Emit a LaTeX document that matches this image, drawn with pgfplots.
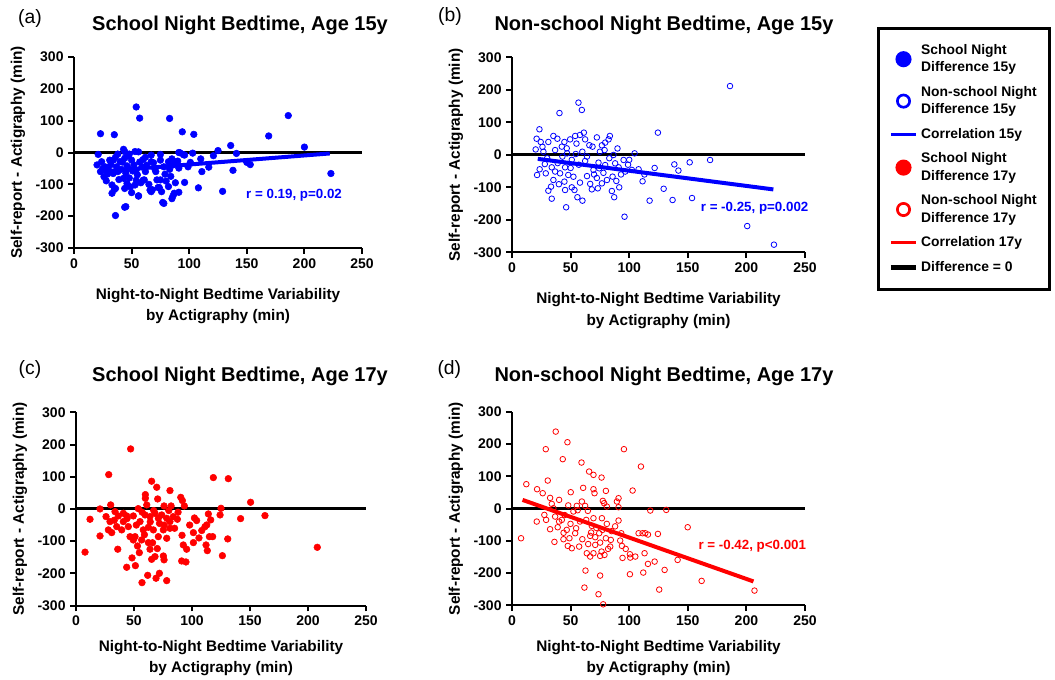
\documentclass[border=0pt]{standalone}
\usepackage{fontspec}
\setmainfont{Liberation Sans}
\usepackage{pgfplots}
\pgfplotsset{compat=1.18}
\definecolor{pblue}{RGB}{0,0,255}
\definecolor{pred}{RGB}{255,0,0}

\pgfplotsset{
  panel/.style={
    scale only axis, clip=false,
    xmin=0, xmax=250, ymin=-300, ymax=300,
    axis x line*=bottom, axis y line*=left,
    axis line style={line width=1.5pt, -},
    xtick={0,50,100,150,200,250}, xticklabels={0,50,100,150,200,250},
    ytick={-300,-200,-100,0,100,200,300},
    yticklabels={-300,-200,-100,0,100,200,300},
    tick align=outside, major tick length=4.3pt,
    every tick/.style={line width=1.5pt, black},
    tick label style={font=\bfseries\fontsize{10.5}{12}\selectfont},
    xlabel={Night-to-Night Bedtime Variability\\by Actigraphy (min)},
    ylabel={Self-report - Actigraphy (min)},
    xlabel style={at={([yshift=-#1]axis description cs:0.5,0)}, anchor=center,
      font=\bfseries\fontsize{11.5}{16}\selectfont, align=center},
    ylabel style={at={([xshift=-42pt]axis description cs:0,0.5)}, anchor=center,
      font=\bfseries\fontsize{11.5}{15}\selectfont},
  },
  panel/.default=43.5pt,
  zero/.style={black, line width=2.25pt, forget plot},
  dots/.style={only marks, mark=*, mark size=2.5pt, draw=#1, fill=#1},
  rings/.style={only marks, mark=o, mark size=2.1pt, mark options={line width=0.6pt}, draw=#1},
  regline/.style={#1, line width=3pt},
}
\tikzset{rlab/.style={font=\bfseries\fontsize{10}{12}\selectfont, text=#1}}

\begin{document}
\begin{tikzpicture}
\useasboundingbox (0pt,0pt) rectangle (791.25pt,509.25pt);

% (a)
\begin{axis}[panel, at={(55.5pt,323.25pt)}, anchor=south west, width=216pt, height=143.25pt]
\addplot[zero] coordinates {(0,0) (250,0)};
\addplot[dots=pblue] coordinates {
(23,59) (35,56) (54,143) (57,108) (83,107) (94,65) (104,57) (136,22) (169,52) (186,116)
(200,17) (223,-66) (129,-122) (108,-111) (138,-56) (153,-38) (150,-31) (141,-3) (125,6) (121,-10)
(117,-46) (111,-60) (103,-2) (101,-31) (96,-94) (95,-7) (91,0) (91,-49) (91,-125) (85,-145)
(86,-136) (77,-157) (76,-123) (75,-86) (72,-86) (68,-117) (67,-123) (61,-86) (56,-136) (50,-126)
(45,-170) (36,-198) (33,-128) (35,-116)
(43,10) (44,3) (53,3) (56,2) (21,-6) (20,-39) (24,-29) (31,-24) (34,-24) (40,-29)
(44,-18) (50,-24) (60,-22) (67,-8) (75,-6) (67,-29) (75,-24) (82,-29) (90,-27) (92,-1)
(96,-8) (23,-60) (26,-76) (30,-55) (34,-66) (37,-45) (41,-53) (46,-42) (52,-39) (54,-55)
(59,-45) (62,-60) (70,-50) (78,-45) (83,-53) (86,-39) (89,-29) (28,-89) (33,-102) (36,-113)
(43,-81) (46,-97) (44,-113) (49,-108) (53,-102) (54,-87) (60,-87) (56,-137) (66,-118) (74,-110)
(82,-107) (87,-128) (78,-160) (44,-172)
(27,-45) (29,-68) (32,-38) (38,-60) (39,-85) (42,-30) (45,-65) (47,-50) (48,-80) (51,-58)
(55,-70) (57,-30) (58,-95) (63,-40) (65,-100) (69,-32) (71,-60) (73,-110) (79,-68) (80,-90)
(84,-75) (88,-95) (25,-50) (36,-15) (47,-10) (62,-15) (85,-20) (99,-45) (110,-20) (48,-5) (38,-5)
};
\addplot[regline=pblue] coordinates {(22,-60) (222,-3)};
\node[rlab=pblue] at (axis cs:191,-133) {r = 0.19, p=0.02};
\end{axis}

% (b)
\begin{axis}[panel, at={(384pt,319.9pt)}, anchor=south west, width=219.75pt, height=146.25pt]
\addplot[zero] coordinates {(0,0) (250,0)};
\addplot[rings=pblue] coordinates {
(56.7,161) (59.6,138.5) (40.5,129) (23.4,79) (21,50) (24.5,40) (20.2,17) (31,40) (35.3,58.5) (38.7,50)
(44.7,40) (49.6,48) (53.9,58.5) (58,61.5) (61.3,68.7) (62.4,48) (72.4,54) (76.7,29.7) (79.5,38) (82.4,48)
(83.5,58.5) (68.7,25.6) (86.6,0) (104.6,5) (124.5,68.7) (26.8,10) (36.8,15) (42.5,25.6) (46.7,20.5) (54.4,3)
(51,-15) (62.4,-18.5) (73.8,-23.6) (79.5,-31) (88,-25.7) (95.2,-15.4) (91,-38) (96.6,-51) (102.3,-46) (108,-44)
(121.7,-40) (111.4,-81) (129.4,-104) (117.4,-140.6) (96,-190) (23.6,-44) (21.4,-61.6) (28.8,-56.5) (33.9,-38) (36.8,-51)
(41,-56.5) (45.3,-38) (48,-61.6) (52.4,-67) (35.3,-77) (33.3,-97.5) (44.7,-82) (45.3,-107.8) (51,-99.6) (53.3,-107.8)
(33.9,-134.5) (46.2,-161) (55.8,-130) (60.1,-140.6) (66.7,-89) (68.1,-105.8) (72.4,-70.8) (73.2,-102.6) (76.7,-87.3) (81,-77)
(85.8,-66.7) (85.2,-110.9) (87.2,-130) (91.5,-99.6) (69.5,-46) (74.4,-41) (186,212) (138.5,-29) (142,-48) (151.6,-22.7)
(169,-15.5) (137,-138.6) (153.6,-132.5) (200.7,-218.7) (223.5,-276)
(30,-10) (39,-25) (43,-5) (47,5) (57,-30) (60,10) (64,-5) (66,30) (70,-60) (75,10)
(78,-55) (83,-10) (89,-80) (93,-60) (99,-30) (64,-65) (58,-85) (40,-90) (28,-28) (55,35)
(50,-40) (79,15) (90,20) (100,-15) (113,-60) (31,-110) (26,25)
};
\addplot[regline=pblue] coordinates {(22,-12) (223,-106)};
\node[rlab=pblue] at (axis cs:207,-164) {r = -0.25, p=0.002};
\end{axis}

% (c)
\begin{axis}[panel=39.5pt, at={(57pt,55.05pt)}, anchor=south west, width=217.5pt, height=145pt]
\addplot[zero] coordinates {(0,0) (250,0)};
\addplot[dots=pred] coordinates {
(47.1,186.3) (28.2,106.6) (65.2,86) (69.6,67.3) (81,57) (59.8,44.5) (59.8,33) (70.4,31) (90.3,36) (91.7,26)
(93.4,9.3) (29.9,12.5) (61,12.5) (75.9,9.3) (82,9.3) (118.4,97.3) (131.3,94) (125,2) (20.7,0) (12.1,-32)
(7.8,-134) (20.7,-83.8) (25.9,-23.8) (29.3,-39.3) (27.9,-65) (30.8,-73.5) (33.6,-8.3) (36.5,-21.7) (40.8,-13.5) (43.7,-21.7)
(35.1,-54.8) (39.4,-65) (40.8,-39.3) (49.4,-21.7) (53.7,1) (55.2,-39.3) (50.9,-86) (46.6,-86) (49.4,-96.3) (56.6,-96.3)
(62.4,-57) (66.7,-65) (71,-86) (75.3,-65) (78.2,-91) (81,-60) (83.9,-23.8) (87.4,-32) (91.4,-81.8) (92.5,-111.8)
(95.4,-125) (101.2,-104.5) (101.2,-73.5) (102.1,-28) (104,-36) (108.4,-67) (111.2,-55) (112.7,-49.7) (114.1,-15.5) (116.1,-34)
(112.1,-111.8) (113.2,-129.4) (115,-86) (117.8,-86) (124.2,-18.6) (130.8,-93) (126.2,-145) (36,-125) (48.3,-152) (43.7,-181)
(51.2,-176) (54.6,-135.6) (62.4,-104.5) (63.8,-125) (65.2,-156.3) (68.1,-148) (70.1,-123) (75.3,-146) (75.9,-158) (71.9,-199.7)
(69,-215) (61.8,-206) (56.9,-228.7) (78.2,-222.5) (91.1,-161.5) (94.8,-164.6) (63.8,-23.8) (68.1,-13.5) (71,-29) (73.9,-18.6)
(78.2,-29) (81,-39.3) (59.5,-18.6) (45.1,-54.8) (58,-65) (150.5,20.7) (141.9,-30) (162.9,-20.7) (208,-119)
(44,-30) (52,-50) (57,-10) (64,-40) (67,-5) (72,-45) (76,-50) (80,-5) (85,-60) (88,-10)
(66,-105) (59,-80) (53,-115) (98,-50) (106,-90) (33,-35)
};
\end{axis}

% (d)
\begin{axis}[panel=39.5pt, at={(384pt,55.3pt)}, anchor=south west, width=219.75pt, height=145pt]
\addplot[zero] coordinates {(0,0) (250,0)};
\addplot[rings=pred] coordinates {
(37.3,239) (47.3,206) (28.8,184.4) (43.3,153.4) (95.5,184.4) (110,130.6) (59.3,143) (65.8,115) (69.5,104.7) (76.4,96.4)
(30.5,87.1) (12.2,75.8) (21.4,60.2) (26.2,47.8) (50.1,50.9) (60.7,64.4) (69.5,60.2) (70.4,47.8) (80.1,55) (102.9,56.1)
(32.5,33.3) (40.2,27.1) (33.9,14.7) (35.3,1.2) (77.5,24) (78.6,16.8) (80.9,6.4) (90.9,32.3) (89.5,22) (90.9,4.3)
(118,-6) (59.6,22) (62.4,8.5) (55.3,8.5) (64.7,-7) (52.4,-9) (27.6,-19.5) (21.1,-40.2) (29.1,-35) (36.8,-24.7)
(40.2,-40.2) (32.5,-64) (39,-57.8) (42.5,-35) (46.7,-66) (49.9,-47.4) (53.9,-76.4) (54.7,-60.9) (43.9,-95) (36.2,-103.3)
(47.6,-115.7) (51,-123) (49,-92) (57.3,-117.8) (63.3,-35) (69.5,-29.8) (76.7,-29.8) (80.9,-47.4) (68.1,-53.6) (67.5,-74.3)
(66.7,-84.7) (71,-88.8) (74.4,-76.4) (77.2,-66) (80.1,-92) (75.2,-105.4) (71,-112.6) (84.3,-97.1) (83.8,-117.8) (90.9,-37)
(93.2,-76.4) (92.3,-99.2) (93.8,-115.7) (63.8,-138.5) (66.7,-148.8) (69.5,-138.5) (75.2,-146.8) (78.9,-143.7) (76.4,-133.3) (94.3,-153)
(100.6,-141.6) (100.9,-152) (105.2,-148.8) (113.1,-138.5) (116,-171.6) (100.6,-203.7) (112,-198.5) (121.7,-164.4) (108,-76.4) (111.4,-76.4)
(113.7,-76.4) (116,-80.5) (7.7,-92) (62.7,-192.3) (61.8,-245) (75.2,-207.8) (73.8,-265.8) (77.8,-297) (131.6,-4) (149.9,-57.8)
(124.5,-78.5) (141.3,-159.2) (130.2,-190.3) (125.6,-251.3) (161.8,-224.4) (206.9,-254.4)
(45,-20) (58,-40) (60,-95) (72,-60) (85,-70) (88,-55) (56,-5) (48,10) (82,-125) (97,-125)
(65,-110) (44,-75)
};
\addplot[regline=pred] coordinates {(9,27) (206,-226)};
\node[rlab=pred] at (axis cs:205,-118) {r = -0.42, p<0.001};
\end{axis}

% legend
\begin{axis}[at={(657.75pt,489pt)}, anchor=north west, scale only axis, width=10pt, height=10pt,
  hide axis, xmin=0, xmax=1, ymin=0, ymax=1,
  legend style={at={(0,1)}, anchor=north west, draw=black, line width=2.25pt,
    inner xsep=7.5pt, inner ysep=10pt, row sep=5.4pt,
    font=\bfseries\fontsize{10.4}{13}\selectfont,
    cells={align=left, anchor=west}},
  legend cell align=left]
\addlegendimage{pblue, legend image code/.code={\path (0pt,0pt) (19pt,0pt); \fill[pblue] (9.5pt,0pt) circle (4.9pt);}}
\addlegendentry{School Night\\Difference 15y}
\addlegendimage{pblue, legend image code/.code={\path (0pt,0pt) (19pt,0pt); \draw[pblue, line width=2pt] (9.5pt,0pt) circle (4.6pt);}}
\addlegendentry{Non-school Night\\Difference 15y}
\addlegendimage{pblue, legend image code/.code={\draw[pblue, line width=2.5pt] (0pt,0pt) -- (19pt,0pt);}}
\addlegendentry{Correlation 15y}
\addlegendimage{pred, legend image code/.code={\path (0pt,0pt) (19pt,0pt); \fill[pred] (9.5pt,0pt) circle (4.9pt);}}
\addlegendentry{School Night\\Difference 17y}
\addlegendimage{pred, legend image code/.code={\path (0pt,0pt) (19pt,0pt); \draw[pred, line width=2pt] (9.5pt,0pt) circle (4.6pt);}}
\addlegendentry{Non-school Night\\Difference 17y}
\addlegendimage{pred, legend image code/.code={\draw[pred, line width=2.5pt] (0pt,0pt) -- (19pt,0pt);}}
\addlegendentry{Correlation 17y}
\addlegendimage{black, legend image code/.code={\draw[black, line width=3.5pt] (0pt,0pt) -- (19pt,0pt);}}
\addlegendentry{Difference = 0}
\end{axis}

% titles and panel letters
\node[font=\bfseries\fontsize{15}{18}\selectfont] at (180pt,490.5pt) {School Night Bedtime, Age 15y};
\node[font=\bfseries\fontsize{15}{18}\selectfont] at (498pt,490.5pt) {Non-school Night Bedtime, Age 15y};
\node[font=\bfseries\fontsize{15}{18}\selectfont] at (180pt,227.25pt) {School Night Bedtime, Age 17y};
\node[font=\bfseries\fontsize{15}{18}\selectfont] at (498pt,227.25pt) {Non-school Night Bedtime, Age 17y};
\node[font=\fontsize{14.5}{17}\selectfont] at (22.5pt,495pt) {(a)};
\node[font=\fontsize{14.5}{17}\selectfont] at (337.5pt,496.5pt) {(b)};
\node[font=\fontsize{14.5}{17}\selectfont] at (22.5pt,232.5pt) {(c)};
\node[font=\fontsize{14.5}{17}\selectfont] at (337pt,232.5pt) {(d)};
\end{tikzpicture}
\end{document}
